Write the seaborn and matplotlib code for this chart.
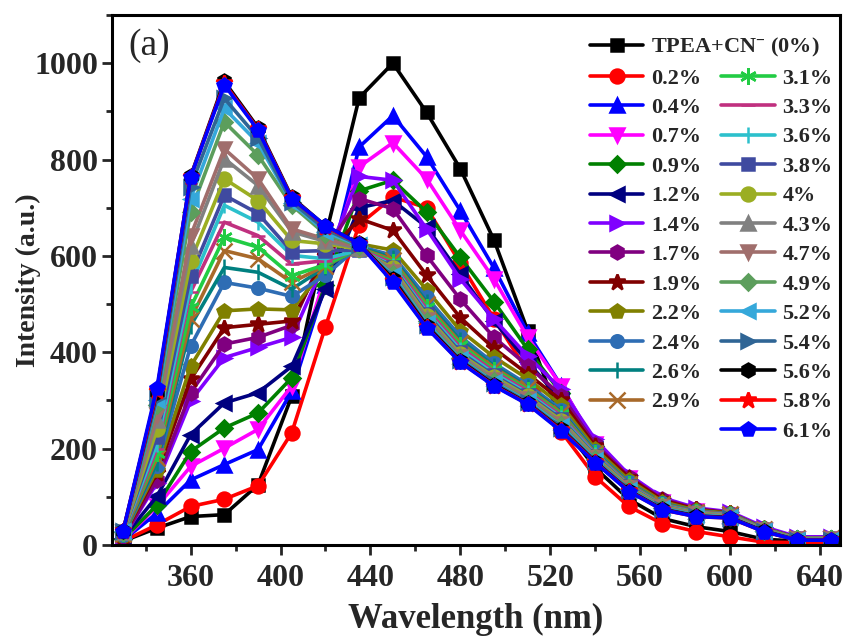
import numpy as np
import pandas as pd
import matplotlib
matplotlib.use("Agg")
import matplotlib.pyplot as plt
from matplotlib.lines import Line2D
from matplotlib.ticker import MultipleLocator
import seaborn as sns

# Emission wavelengths (nm)
wavelength = [330, 345, 360, 375, 390, 405, 420, 435, 450, 465, 480,
              495, 510, 525, 540, 555, 570, 585, 600, 615, 630, 645]

# Fluorescence intensity (a.u.) for each CN- content
int_0_0 = [8, 35, 59, 63, 125, 309, 640, 928, 1000, 898, 781, 633, 445, 252, 160, 95, 55, 38, 28, 12, 8, 8]
int_0_2 = [8, 42, 80, 95, 123, 233, 453, 665, 722, 700, 585, 470, 360, 235, 142, 80, 44, 28, 17, 6, 5, 5]
int_0_4 = [10, 66, 135, 167, 198, 319, 540, 826, 891, 806, 694, 575, 440, 330, 210, 140, 90, 70, 62, 30, 12, 12]
int_0_7 = [10, 80, 163, 201, 240, 330, 560, 785, 835, 760, 653, 552, 431, 330, 210, 140, 90, 70, 62, 30, 12, 12]
int_0_9 = [12, 83, 194, 243, 274, 347, 540, 735, 757, 691, 597, 505, 406, 315, 205, 135, 88, 68, 61, 30, 12, 12]
int_1_2 = [15, 101, 229, 295, 316, 371, 531, 700, 715, 660, 562, 465, 380, 300, 200, 130, 85, 66, 60, 30, 12, 12]
int_1_4 = [15, 129, 299, 389, 410, 431, 590, 765, 757, 656, 552, 469, 392, 323, 219, 146, 98, 77, 69, 38, 17, 17]
int_1_7 = [15, 135, 316, 417, 431, 456, 612, 719, 698, 601, 510, 431, 372, 310, 210, 142, 95, 75, 67, 35, 15, 15]
int_1_9 = [18, 150, 344, 451, 458, 465, 600, 677, 653, 560, 472, 408, 355, 300, 205, 140, 93, 74, 66, 34, 15, 15]
int_2_2 = [20, 156, 371, 486, 490, 488, 575, 625, 612, 530, 445, 390, 345, 290, 200, 135, 90, 72, 66, 35, 14, 14]
int_2_4 = [20, 165, 413, 545, 533, 516, 560, 620, 601, 514, 433, 377, 333, 281, 195, 130, 87, 70, 65, 34, 14, 14]
int_2_6 = [22, 170, 455, 576, 566, 531, 577, 618, 596, 505, 425, 372, 328, 277, 193, 128, 86, 69, 64, 34, 14, 14]
int_2_9 = [22, 180, 469, 611, 594, 545, 580, 616, 592, 500, 420, 368, 325, 274, 191, 127, 85, 69, 64, 33, 14, 14]
int_3_1 = [24, 190, 493, 639, 618, 559, 582, 615, 588, 495, 415, 364, 322, 271, 190, 126, 84, 68, 63, 33, 14, 14]
int_3_3 = [24, 200, 525, 670, 642, 583, 590, 614, 585, 490, 410, 360, 319, 268, 189, 125, 83, 68, 63, 33, 14, 14]
int_3_6 = [25, 210, 538, 705, 670, 601, 594, 612, 580, 484, 405, 356, 315, 264, 187, 123, 82, 67, 62, 32, 13, 13]
int_3_8 = [26, 225, 559, 726, 688, 609, 611, 612, 577, 480, 400, 352, 312, 261, 185, 122, 81, 66, 61, 32, 13, 13]
int_4_0 = [26, 240, 590, 760, 715, 632, 625, 614, 574, 476, 396, 349, 309, 258, 183, 121, 80, 66, 61, 32, 13, 13]
int_4_3 = [27, 260, 621, 802, 746, 650, 630, 616, 570, 472, 393, 346, 306, 255, 181, 119, 79, 65, 60, 31, 12, 12]
int_4_7 = [28, 270, 642, 822, 760, 656, 635, 618, 567, 468, 390, 343, 303, 252, 180, 118, 78, 64, 59, 31, 12, 12]
int_4_9 = [28, 290, 692, 878, 809, 705, 645, 620, 563, 464, 388, 340, 300, 249, 178, 117, 77, 63, 58, 30, 12, 12]
int_5_2 = [29, 300, 719, 906, 835, 710, 650, 622, 560, 460, 386, 338, 298, 246, 176, 115, 76, 62, 58, 30, 11, 11]
int_5_4 = [29, 305, 744, 927, 845, 712, 655, 623, 556, 457, 384, 336, 296, 243, 175, 114, 75, 61, 57, 29, 11, 11]
int_5_6 = [30, 318, 765, 962, 866, 722, 662, 626, 552, 455, 382, 333, 294, 240, 173, 113, 74, 60, 57, 29, 10, 10]
int_5_8 = [30, 320, 764, 958, 863, 720, 661, 625, 548, 452, 380, 331, 293, 238, 172, 112, 73, 59, 56, 28, 10, 10]
int_6_1 = [30, 326, 764, 955, 861, 719, 663, 625, 545, 451, 379, 330, 292, 236, 171, 111, 73, 59, 56, 28, 10, 10]

labels = ["TPEA+CN$^{-}$ (0%)", "0.2%", "0.4%", "0.7%", "0.9%", "1.2%", "1.4%", "1.7%",
          "1.9%", "2.2%", "2.4%", "2.6%", "2.9%", "3.1%", "3.3%", "3.6%", "3.8%",
          "4%", "4.3%", "4.7%", "4.9%", "5.2%", "5.4%", "5.6%", "5.8%", "6.1%"]
series = [int_0_0, int_0_2, int_0_4, int_0_7, int_0_9, int_1_2, int_1_4, int_1_7,
          int_1_9, int_2_2, int_2_4, int_2_6, int_2_9, int_3_1, int_3_3, int_3_6,
          int_3_8, int_4_0, int_4_3, int_4_7, int_4_9, int_5_2, int_5_4, int_5_6,
          int_5_8, int_6_1]

colors = ["#000000", "#FF0000", "#0000FF", "#FF00FF", "#008000", "#000080", "#8000FF",
          "#800080", "#800000", "#808000", "#2E6DB4", "#008080", "#A8692A", "#22CC44",
          "#C0307F", "#2CC0CC", "#3F4AA0", "#9BAE23", "#808080", "#A06E6C", "#5C9E5C",
          "#35A8DA", "#2F6595", "#000000", "#FF0000", "#0000FF"]
markers = ["s", "o", "^", "v", "D", "<", ">", "h", "*", "p", "o", "|", "x", (6, 2, 0),
           "_", "|", "s", "o", "^", "v", "D", "<", ">", "h", "*", "p"]
msizes = [9, 10, 10, 10, 8, 10, 10, 10, 12, 10, 9, 11, 11, 12,
          10, 11, 9, 10, 10, 10, 8, 10, 10, 10, 12, 10]

sns.set_style("ticks")
plt.rcParams["font.family"] = ["Liberation Serif", "DejaVu Serif"]
plt.rcParams["font.weight"] = "bold"
plt.rcParams["mathtext.fontset"] = "custom"
plt.rcParams["mathtext.rm"] = "Liberation Serif:bold"
plt.rcParams["mathtext.it"] = "Liberation Serif:bold"
plt.rcParams["mathtext.bf"] = "Liberation Serif:bold"

fig = plt.figure(figsize=(8.47, 6.39), dpi=100)
ax = fig.add_axes([112 / 847, 94 / 639, 728 / 847, 530 / 639])

handles = []
for lab, vals, col, mk, ms in zip(labels, series, colors, markers, msizes):
    df = pd.DataFrame({"wavelength": wavelength, "intensity": vals})
    sns.lineplot(data=df, x="wavelength", y="intensity", ax=ax, color=col,
                 linewidth=2.6, marker=mk, markersize=ms, markeredgecolor=col,
                 markerfacecolor=col, markeredgewidth=1.8, legend=False)
    handles.append(Line2D([], [], color=col, linewidth=2.6, marker=mk,
                          markersize=ms, markeredgecolor=col, markerfacecolor=col,
                          markeredgewidth=1.8, label=lab))

ax.set_xlim(325, 649)
ax.set_ylim(0, 1100)
ax.set_xticks([360, 400, 440, 480, 520, 560, 600, 640])
ax.xaxis.set_minor_locator(MultipleLocator(20))
ax.yaxis.set_major_locator(MultipleLocator(200))
ax.yaxis.set_minor_locator(MultipleLocator(100))

for sp in ax.spines.values():
    sp.set_visible(True)
    sp.set_linewidth(2.2)
    sp.set_color("black")
ax.tick_params(which="major", direction="out", length=7, width=2, labelsize=23,
               top=False, right=False, pad=3)
ax.tick_params(axis="x", which="major", pad=7)
ax.tick_params(which="minor", direction="out", length=4, width=2,
               top=False, right=False)
for t in ax.get_xticklabels() + ax.get_yticklabels():
    t.set_fontweight("bold")

ax.set_xlabel("Wavelength (nm)", fontsize=25, fontweight="bold", labelpad=7)
ax.set_ylabel("Intensity (a.u.)", fontsize=20, fontweight="bold")
ax.yaxis.set_label_coords(-0.097, 0.5)

ax.text(0.022, 0.975, "(a)", transform=ax.transAxes, fontsize=27,
        fontweight="normal", va="top", ha="left")

# First entry on its own row, the rest in two columns below it
leg1 = fig.legend(handles=handles[:1], loc="upper left",
                  bbox_to_anchor=(590 / 847, 1 - 36 / 639), frameon=False,
                  prop={"size": 16, "weight": "bold"}, handlelength=2.4,
                  handletextpad=0.35, borderpad=0, borderaxespad=0)
blank = Line2D([], [], linestyle="none", marker="none", label=" ")
col1 = handles[1:13] + [blank]
col2 = handles[13:]
leg2 = fig.legend(handles=col1 + col2, loc="upper left", ncol=2,
                  bbox_to_anchor=(590 / 847, 1 - 68 / 639), frameon=False,
                  prop={"size": 16, "weight": "bold"}, handlelength=2.4,
                  handletextpad=0.35, labelspacing=0.40, columnspacing=0.9,
                  borderpad=0, borderaxespad=0)

fig.savefig("out.png", dpi=100, facecolor="white")
